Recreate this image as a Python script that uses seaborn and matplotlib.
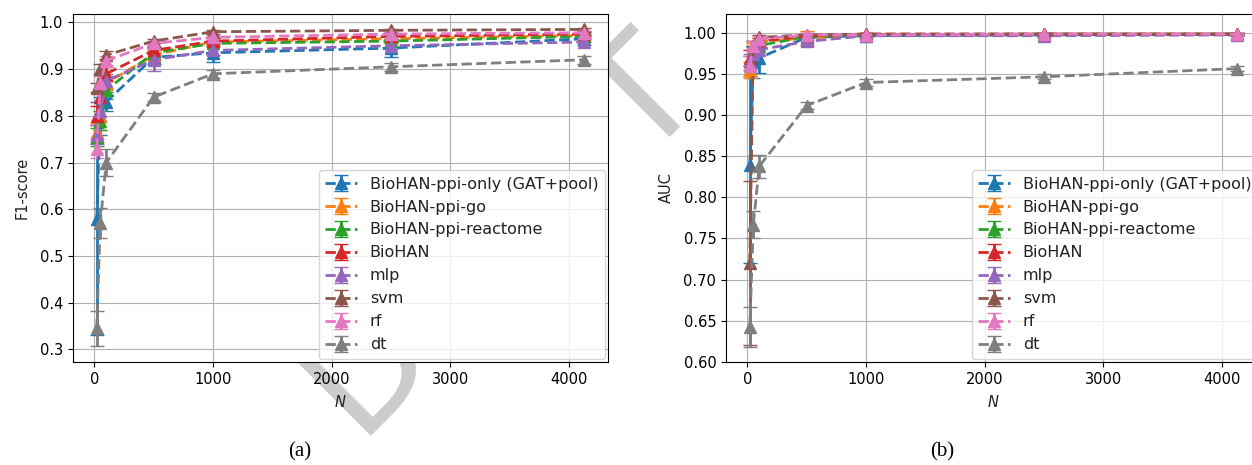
import numpy as np
import matplotlib
matplotlib.use("Agg")
import matplotlib.pyplot as plt
import seaborn as sns

# sample sizes
n_values = [20, 50, 100, 500, 1000, 2500, 4130]

labels = ["BioHAN-ppi-only (GAT+pool)", "BioHAN-ppi-go", "BioHAN-ppi-reactome",
          "BioHAN", "mlp", "svm", "rf", "dt"]

# F1-score, mean and std
f1_ppi_only = [0.58, 0.80, 0.83, 0.925, 0.935, 0.945, 0.965]
f1_ppi_only_err = [0.25, 0.04, 0.02, 0.015, 0.02, 0.02, 0.008]
f1_ppi_go = [0.765, 0.80, 0.87, 0.93, 0.958, 0.965, 0.972]
f1_ppi_go_err = [0.02, 0.03, 0.015, 0.01, 0.008, 0.006, 0.005]
f1_ppi_reactome = [0.755, 0.79, 0.855, 0.935, 0.955, 0.96, 0.97]
f1_ppi_reactome_err = [0.02, 0.02, 0.02, 0.01, 0.006, 0.005, 0.004]
f1_biohan = [0.80, 0.84, 0.89, 0.94, 0.96, 0.97, 0.975]
f1_biohan_err = [0.02, 0.02, 0.015, 0.008, 0.006, 0.005, 0.004]
f1_mlp = [0.76, 0.81, 0.875, 0.92, 0.94, 0.95, 0.958]
f1_mlp_err = [0.02, 0.02, 0.015, 0.025, 0.01, 0.008, 0.006]
f1_svm = [0.86, 0.90, 0.93, 0.96, 0.98, 0.983, 0.985]
f1_svm_err = [0.01, 0.01, 0.008, 0.005, 0.004, 0.003, 0.003]
f1_rf = [0.73, 0.87, 0.918, 0.955, 0.968, 0.975, 0.978]
f1_rf_err = [0.02, 0.015, 0.01, 0.006, 0.005, 0.004, 0.004]
f1_dt = [0.345, 0.57, 0.70, 0.84, 0.89, 0.905, 0.92]
f1_dt_err = [0.038, 0.032, 0.028, 0.008, 0.008, 0.008, 0.008]

# AUC, mean and std
auc_ppi_only = [0.84, 0.965, 0.97, 0.995, 0.997, 0.998, 0.999]
auc_ppi_only_err = [0.12, 0.02, 0.018, 0.003, 0.002, 0.001, 0.001]
auc_ppi_go = [0.955, 0.98, 0.99, 0.994, 0.998, 0.999, 0.999]
auc_ppi_go_err = [0.01, 0.008, 0.004, 0.009, 0.002, 0.001, 0.001]
auc_ppi_reactome = [0.96, 0.978, 0.985, 0.996, 0.998, 0.999, 0.999]
auc_ppi_reactome_err = [0.012, 0.006, 0.004, 0.002, 0.001, 0.001, 0.001]
auc_biohan = [0.97, 0.985, 0.99, 0.997, 0.999, 0.999, 0.999]
auc_biohan_err = [0.01, 0.005, 0.004, 0.002, 0.001, 0.001, 0.001]
auc_mlp = [0.965, 0.975, 0.98, 0.99, 0.997, 0.997, 0.998]
auc_mlp_err = [0.01, 0.008, 0.006, 0.004, 0.002, 0.002, 0.001]
auc_svm = [0.72, 0.985, 0.995, 0.998, 0.999, 0.999, 0.999]
auc_svm_err = [0.1, 0.005, 0.003, 0.002, 0.001, 0.001, 0.001]
auc_rf = [0.96, 0.985, 0.993, 0.998, 0.998, 0.999, 0.999]
auc_rf_err = [0.012, 0.005, 0.004, 0.002, 0.002, 0.001, 0.001]
auc_dt = [0.642, 0.767, 0.838, 0.912, 0.94, 0.947, 0.957]
auc_dt_err = [0.024, 0.016, 0.014, 0.004, 0.004, 0.003, 0.003]

f1_means = [f1_ppi_only, f1_ppi_go, f1_ppi_reactome, f1_biohan, f1_mlp, f1_svm, f1_rf, f1_dt]
f1_errs = [f1_ppi_only_err, f1_ppi_go_err, f1_ppi_reactome_err, f1_biohan_err,
           f1_mlp_err, f1_svm_err, f1_rf_err, f1_dt_err]
auc_means = [auc_ppi_only, auc_ppi_go, auc_ppi_reactome, auc_biohan, auc_mlp, auc_svm, auc_rf, auc_dt]
auc_errs = [auc_ppi_only_err, auc_ppi_go_err, auc_ppi_reactome_err, auc_biohan_err,
            auc_mlp_err, auc_svm_err, auc_rf_err, auc_dt_err]

sns.set_style("ticks", rc={"axes.grid": True, "grid.color": "#b0b0b0", "grid.linewidth": 0.8,
                           "axes.edgecolor": "black", "xtick.color": "black", "ytick.color": "black",
                           "text.color": "#222222", "axes.labelcolor": "#222222"})
plt.rcParams["font.family"] = ["DejaVu Sans"]
plt.rcParams["font.size"] = 10.5
colors = sns.color_palette("tab10", 8)

fig = plt.figure(figsize=(12.52, 4.65), dpi=100)

# watermark, sits behind the axes
fig.text(0.40, 0.50, "DRAFT", fontsize=108, color="0.8", rotation=45,
         ha="center", va="center", zorder=-1)

ax1 = fig.add_axes([0.0583, 0.2215, 0.4273, 0.7484])
ax2 = fig.add_axes([0.5799, 0.2215, 0.4273, 0.7484])


def draw_panel(ax, means, errs, ylabel):
    for i in range(len(labels)):
        ax.errorbar(n_values, means[i], yerr=errs[i], color=colors[i], linestyle="--",
                    marker="^", markersize=8, capsize=5, linewidth=2, label=labels[i])
    ax.set_xlabel("$N$", fontsize=10.5, labelpad=5)
    ax.set_ylabel(ylabel, fontsize=10.5, labelpad=7)
    ax.set_xlim(-180, 4330)
    ax.set_xticks([0, 1000, 2000, 3000, 4000])
    ax.grid(True)
    ax.legend(loc="lower right", fontsize=11.5, borderaxespad=0.2)
    ax.tick_params(labelsize=10.5)


draw_panel(ax1, f1_means, f1_errs, "F1-score")
ax1.set_ylim(0.273, 1.018)
ax1.set_yticks([0.3, 0.4, 0.5, 0.6, 0.7, 0.8, 0.9, 1.0])

draw_panel(ax2, auc_means, auc_errs, "AUC")
ax2.set_ylim(0.5995, 1.0235)
ax2.set_yticks([0.60, 0.65, 0.70, 0.75, 0.80, 0.85, 0.90, 0.95, 1.00])
ax2.set_yticklabels(["0.60", "0.65", "0.70", "0.75", "0.80", "0.85", "0.90", "0.95", "1.00"])

fig.text(300 / 1252, 1 - 452 / 465, "(a)", family="Liberation Serif", fontsize=15,
         color="black", ha="center", va="center")
fig.text(942 / 1252, 1 - 452 / 465, "(b)", family="Liberation Serif", fontsize=15,
         color="black", ha="center", va="center")

fig.savefig("out.png", dpi=100)
